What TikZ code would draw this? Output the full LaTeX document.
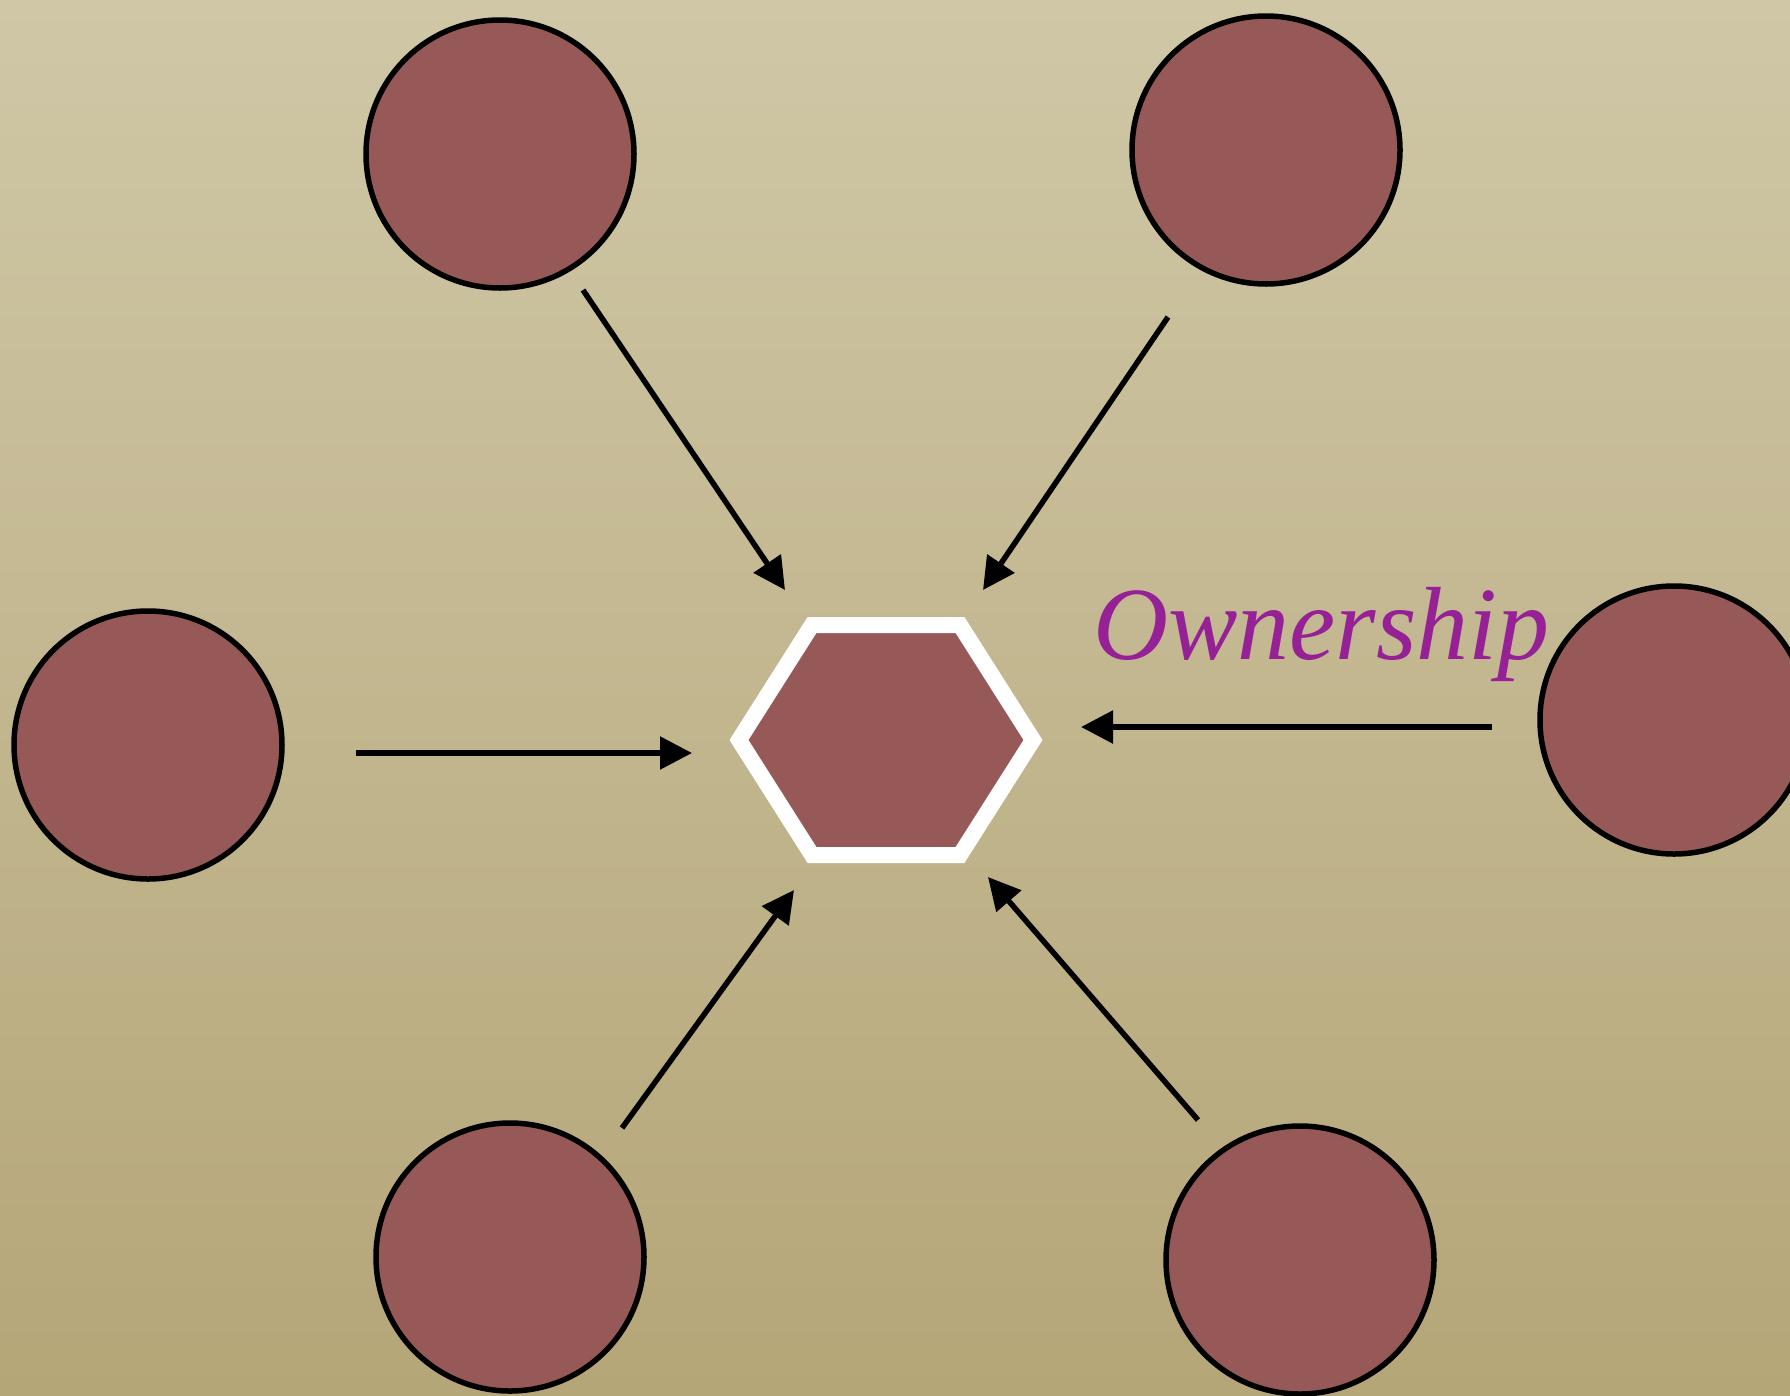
\documentclass[tikz,border=0pt]{standalone}
\usepackage{fontspec}
\setmainfont{Liberation Serif}
\usetikzlibrary{arrows.meta}
\definecolor{bgtop}{RGB}{207,199,166}
\definecolor{bgbot}{RGB}{181,166,120}
\definecolor{blob}{RGB}{150,89,88}
\definecolor{ownpurple}{RGB}{150,32,150}
\tikzset{
  actor/.style={circle, draw=black, line width=5.5pt, fill=blob, minimum size=268pt, inner sep=0pt},
  own/.style={draw=black, line width=5.5pt, -{Triangle[length=32pt,width=32pt]}},
}
\begin{document}
\begin{tikzpicture}[x=1pt,y=-1pt]
\shade[top color=bgtop, bottom color=bgbot] (0,0) rectangle (1790,1395);
\useasboundingbox (0,0) rectangle (1790,1395);
% hexagon
\filldraw[fill=blob, draw=white, line width=16pt, line join=miter]
  (739,740) -- (812,625) -- (960,625) -- (1033,740) -- (960,855) -- (812,855) -- cycle;
\coordinate (hex) at (886,740);
% actors
\node[actor] (tl) at (500,154) {};
\node[actor] (tr) at (1266,150) {};
\node[actor] (l) at (148,745) {};
\node[actor] (r) at (1674,720) {};
\node[actor] (bl) at (510,1257) {};
\node[actor] (br) at (1300,1260) {};
% arrow endpoints
\coordinate (tls) at (583,290);  \coordinate (tle) at (785,590);
\coordinate (trs) at (1168,317); \coordinate (tre) at (983,590);
\coordinate (ls) at (356,753);   \coordinate (le) at (692,753);
\coordinate (rs) at (1492,727);  \coordinate (re) at (1081,727);
\coordinate (bls) at (622,1128); \coordinate (ble) at (794,890);
\coordinate (brs) at (1198,1120);\coordinate (bre) at (988,877);
\draw[own] (tls) -- (tle);
\draw[own] (trs) -- (tre);
\draw[own] (ls) -- (le);
\draw[own] (rs) -- (re);
\draw[own] (bls) -- (ble);
\draw[own] (brs) -- (bre);
\node[anchor=base west, inner sep=0pt, text=ownpurple, font=\fontsize{104}{110}\selectfont\itshape] (lab) at (1093,659) {Ownership};
\end{tikzpicture}
\end{document}
